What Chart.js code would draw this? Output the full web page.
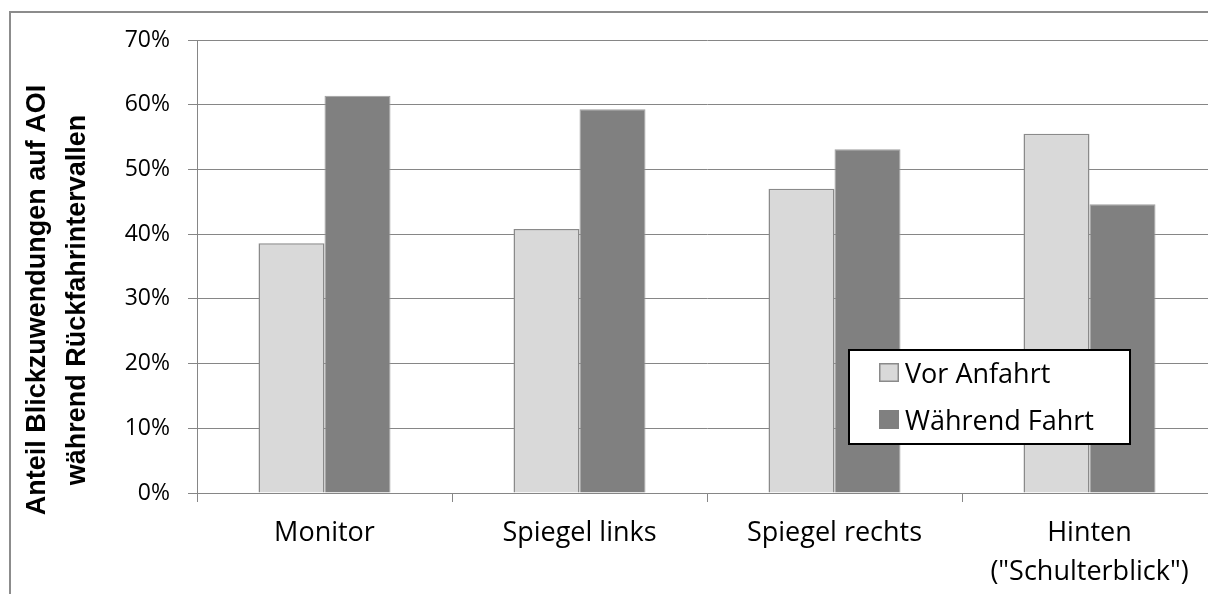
<!DOCTYPE html>
<html><head><meta charset="utf-8">
<script src="https://cdn.jsdelivr.net/npm/chart.js@4.4.1/dist/chart.umd.min.js"></script>
<style>
html,body{margin:0;padding:0;background:#fff;overflow:hidden;width:1208px;height:594px;}
#frame{position:absolute;left:9px;top:11px;width:1400px;height:800px;border:2px solid #8c8c8c;box-sizing:border-box;}
#c{position:absolute;left:0;top:0;}
</style></head><body>
<div id="frame"></div>
<canvas id="c" width="1230" height="594"></canvas>
<script>
const categories = ['Monitor', 'Spiegel links', 'Spiegel rechts', ['Hinten', '("Schulterblick")']];
const seriesNames = ['Vor Anfahrt', 'Während Fahrt'];
const vorAnfahrt = [38.6, 40.8, 47.0, 55.5];
const waehrendFahrt = [61.4, 59.3, 53.1, 44.6];
const yTicks = [0, 10, 20, 30, 40, 50, 60, 70];
const yTitle = ['Anteil Blickzuwendungen auf AOI', 'während Rückfahrintervallen'];

const seriesColors = ['#d9d9d9', '#808080'];
const seriesBorders = ['#8a8a8a', '#a0a0a0'];

const titlePlugin = {
  id: 'yTitle',
  afterDraw(chart) {
    const ctx = chart.ctx;
    ctx.save();
    ctx.font = 'bold 27px "Liberation Sans", Arial, sans-serif';
    ctx.fillStyle = '#000';
    ctx.textAlign = 'center';
    ctx.textBaseline = 'alphabetic';
    const baselines = [45, 85];
    yTitle.forEach((t, i) => {
      ctx.save();
      ctx.translate(baselines[i], 300);
      ctx.rotate(-Math.PI / 2);
      ctx.fillText(t, 0, 0);
      ctx.restore();
    });
    ctx.restore();
  }
};

const legendPlugin = {
  id: 'boxLegend',
  afterDraw(chart) {
    const ctx = chart.ctx;
    ctx.save();
    ctx.fillStyle = '#fff';
    ctx.fillRect(849, 350, 281, 94);
    ctx.strokeStyle = '#000';
    ctx.lineWidth = 2;
    ctx.strokeRect(849, 350, 281, 94);
    ctx.font = '27px "Open Sans", sans-serif';
    ctx.textAlign = 'left';
    ctx.textBaseline = 'alphabetic';
    chart.data.datasets.forEach((ds, i) => {
      const base = 383 + i * 47;
      ctx.fillStyle = ds.backgroundColor;
      ctx.fillRect(879, base - 20, 20, 19);
      if (i === 0) {
        ctx.strokeStyle = ds.borderColor;
        ctx.lineWidth = 1.5;
        ctx.strokeRect(879.75, base - 19.25, 18.5, 17.5);
      }
      ctx.fillStyle = '#000';
      ctx.fillText(ds.label, 905, base);
    });
    ctx.restore();
  }
};

function draw() {
  Chart.defaults.font.family = '"Open Sans", sans-serif';
  Chart.defaults.color = '#000';
  new Chart(document.getElementById('c'), {
    type: 'bar',
    data: {
      labels: categories,
      datasets: [
        { label: seriesNames[0], data: vorAnfahrt, backgroundColor: seriesColors[0], borderColor: seriesBorders[0], borderWidth: 1.5 },
        { label: seriesNames[1], data: waehrendFahrt, backgroundColor: seriesColors[1], borderColor: seriesBorders[1], borderWidth: 1 }
      ]
    },
    options: {
      responsive: false,
      animation: false,
      devicePixelRatio: 1,
      barPercentage: 1,
      categoryPercentage: 132 / 255,
      layout: { padding: { top: 40, right: 13, left: 0, bottom: 0 } },
      plugins: { legend: { display: false }, tooltip: { enabled: false }, title: { display: false } },
      scales: {
        x: {
          afterFit: s => { s.height = 101; },
          ticks: { font: { size: 27, lineHeight: 1.45 }, color: '#000', padding: 12, maxRotation: 0, autoSkip: false },
          grid: { drawOnChartArea: false, color: '#868686', tickLength: 9, offset: true },
          border: { color: '#868686', width: 1 }
        },
        y: {
          min: 0, max: 70,
          afterBuildTicks: s => { s.ticks = yTicks.map(v => ({ value: v })); },
          afterFit: s => { s.width = 197; },
          ticks: { callback: v => v + '%', font: { size: 23 }, color: '#000', padding: 18 },
          grid: { color: '#868686', lineWidth: 1, tickLength: 9, drawTicks: true },
          border: { color: '#868686', width: 1 }
        }
      }
    },
    plugins: [titlePlugin, legendPlugin]
  });
}
const fl = [document.fonts.load('27px "Open Sans"'), document.fonts.load('bold 27px "Liberation Sans"')];
Promise.all(fl).then(draw, draw);
</script>
</body></html>
